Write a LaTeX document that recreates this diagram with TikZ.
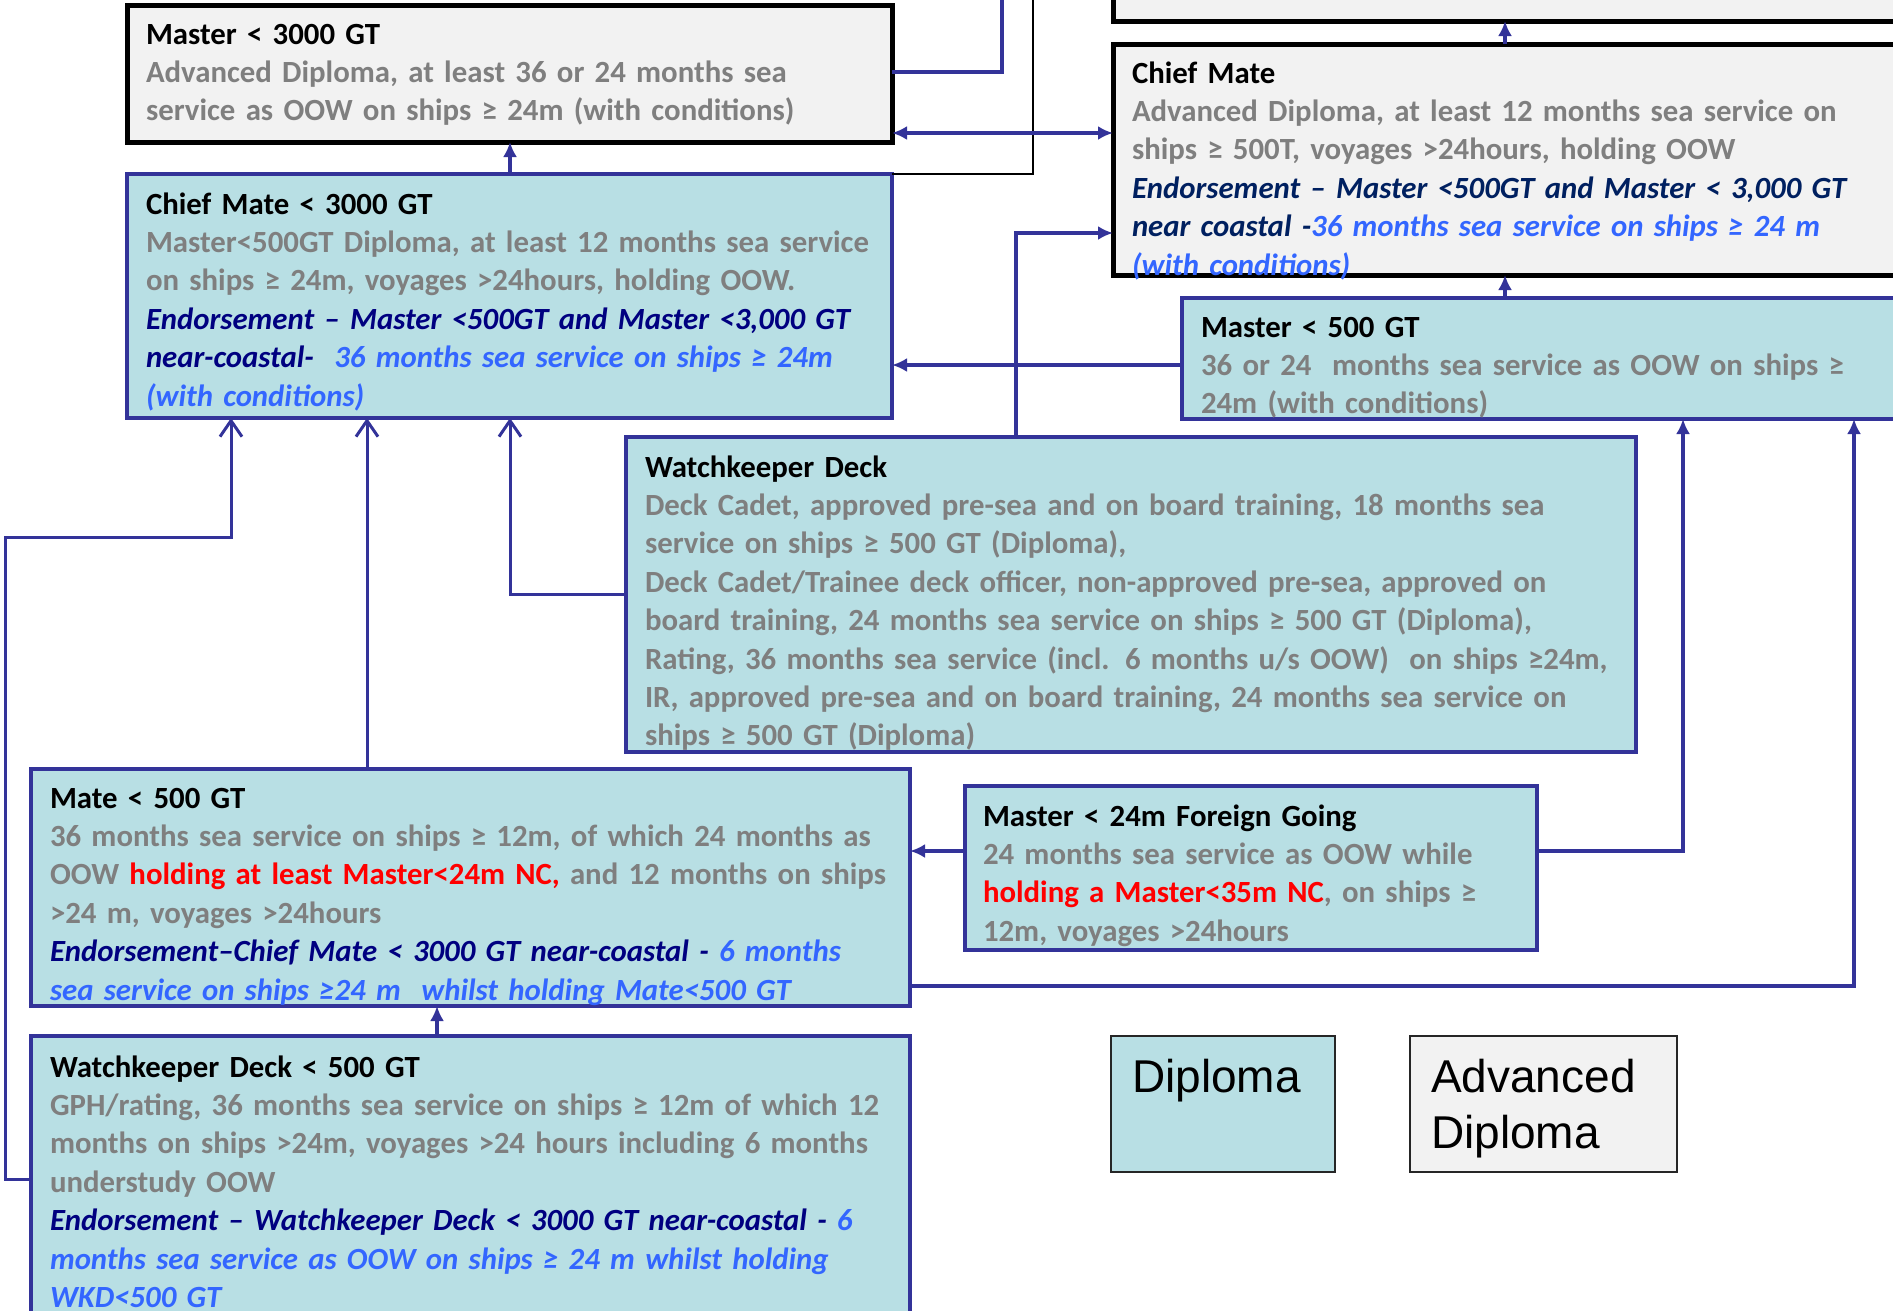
\documentclass[tikz,border=0pt]{standalone}
\usepackage{fontspec}
\setmainfont{Carlito}
\newfontfamily\legfont{Liberation Sans}
\usetikzlibrary{arrows.meta,calc}
\definecolor{cteal}{RGB}{184,223,228}
\definecolor{cgreyfill}{RGB}{242,242,242}
\definecolor{cblue}{RGB}{51,51,153}
\definecolor{tgrey}{RGB}{127,127,127}
\definecolor{navyA}{RGB}{0,0,128}
\definecolor{navyB}{RGB}{0,32,96}
\definecolor{lblue}{RGB}{51,102,255}
\definecolor{tred}{RGB}{255,0,0}
\newcommand\GE{≥}
\newcommand\fs{\rule{0pt}{30pt}}
\begin{document}
\begin{tikzpicture}[x=1pt,y=-1pt,
  tealbox/.style={draw=cblue, fill=cteal, line width=4.5pt, inner sep=0pt, outer sep=0pt, anchor=north west},
  greybox/.style={draw=black, fill=cgreyfill, line width=5pt, inner sep=0pt, outer sep=0pt, anchor=north west},
  legbox/.style={draw=black!85, line width=1.5pt, inner sep=0pt, outer sep=0pt, anchor=north west},
  txt/.style={anchor=north west, inner sep=0pt, outer sep=0pt, align=left, text width=1000pt,
    font=\fontsize{30.8}{38.4}\selectfont\bfseries},
  legtxt/.style={anchor=north west, inner sep=0pt, outer sep=0pt, align=left, text width=400pt,
    font=\legfont\fontsize{46}{56}\selectfont},
  conn/.style={draw=cblue, line width=4.5pt},
  thinconn/.style={draw=cblue, line width=3pt},
  fa/.style={-{Latex[length=15pt,width=14pt]}},
  oa/.style={-{Straight Barb[length=16pt,width=22pt]}}
]
\useasboundingbox (0,0) rectangle (1893,1310);

% boxes
\node[greybox, minimum width=765pt, minimum height=137pt] (m3) at (127,5) {};
\node[tealbox, minimum width=765pt, minimum height=244pt] (c3) at (127,174) {};
\node[greybox, minimum width=807pt, minimum height=51pt] (t) at (1113,-30) {};
\node[greybox, minimum width=807pt, minimum height=231pt] (cm) at (1113,44) {};
\node[tealbox, minimum width=738pt, minimum height=121pt] (m5) at (1182,298) {};
\node[tealbox, minimum width=1010pt, minimum height=315pt] (wd) at (626,437) {};
\node[tealbox, minimum width=879pt, minimum height=237pt] (mb) at (31,769) {};
\node[tealbox, minimum width=572pt, minimum height=164pt] (mf) at (965,786) {};
\node[tealbox, minimum width=879pt, minimum height=304pt] (w5) at (31,1036) {};
\node[legbox, fill=cteal, minimum width=224pt, minimum height=136pt] (ld) at (1111,1036) {};
\node[legbox, fill=cgreyfill, minimum width=267pt, minimum height=136pt] (la) at (1410,1036) {};

% coordinates for connectors
\coordinate (a1) at (1002,72);
\coordinate (a2) at (1002,-20);
\coordinate (b1) at (1033,174);
\coordinate (b2) at (1033,-20);
\coordinate (yc) at (0,133);
\coordinate (xd) at (510,0);
\coordinate (xe) at (1505,0);
\coordinate (yg) at (0,365);
\coordinate (h1) at (1016,233);
\coordinate (i1) at (510,594);
\coordinate (xj) at (367,0);
\coordinate (k1) at (5,1179);
\coordinate (k2) at (5,537);
\coordinate (k3) at (231,537);
\coordinate (xl) at (437,0);
\coordinate (ym) at (0,851);
\coordinate (n1) at (1683,851);
\coordinate (o1) at (1854,986);

% connectors
\draw[conn] (m3.east |- a1) -- (a1) -- (a2);
\draw[draw=black, line width=2pt] (c3.north east) -- (b1) -- (b2);
\draw[conn, {Latex[length=15pt,width=14pt]}-{Latex[length=15pt,width=14pt]}] (m3.east |- yc) -- (cm.west |- yc);
\draw[conn, fa] (c3.north -| xd) -- (m3.south -| xd);
\draw[conn, fa] (cm.north -| xe) -- (t.south -| xe);
\draw[conn, fa] (m5.north -| xe) -- (cm.south -| xe);
\draw[conn, fa] (m5.west |- yg) -- (c3.east |- yg);
\draw[conn, fa] (wd.north -| h1) -- (h1) -- (cm.west |- h1);
\draw[thinconn, oa] (wd.west |- i1) -- (i1) -- (c3.south -| i1);
\draw[thinconn, oa] (mb.north -| xj) -- (c3.south -| xj);
\draw[thinconn, oa] (w5.west |- k1) -- (k1) -- (k2) -- (k3) -- (c3.south -| k3);
\draw[conn, fa] (w5.north -| xl) -- (mb.south -| xl);
\draw[conn, fa] (mf.west |- ym) -- (mb.east |- ym);
\draw[conn, fa] (mf.east |- n1) -- (n1) -- (m5.south -| n1);
\draw[conn, fa] (mb.east |- o1) -- (o1) -- (m5.south -| o1);

% texts
\node[txt] (m3t) at ($(m3.north west)+(19,9)$) {\fs Master < 3000 GT\\
{\color{tgrey}Advanced Diploma, at least 36 or 24 months sea\\
service as OOW on ships \GE{} 24m (with conditions)}};

\node[txt] (c3t) at ($(c3.north west)+(19,10)$) {\fs Chief Mate < 3000 GT\\
{\color{tgrey}Master<500GT Diploma, at least 12 months sea service\\
on ships \GE{} 24m, voyages >24hours, holding OOW.}\\
{\itshape\color{navyA}Endorsement – Master <500GT and Master <3,000 GT\\
near-coastal-\ \ {\color{lblue}36 months sea service on ships \GE{} 24m\\
(with conditions)}}};

\node[txt] (cmt) at ($(cm.north west)+(19,9)$) {\fs Chief Mate\\
{\color{tgrey}Advanced Diploma, at least 12 months sea service on\\
ships \GE{} 500T, voyages >24hours, holding OOW}\\
{\itshape\color{navyB}Endorsement – Master <500GT and Master < 3,000 GT\\
near coastal -{\color{lblue}36 months sea service on ships \GE{} 24 m\\
(with conditions)}}};

\node[txt] (m5t) at ($(m5.north west)+(19,9)$) {\fs Master < 500 GT\\
{\color{tgrey}36 or 24\ \ months sea service as OOW on ships \GE\\
24m (with conditions)}};

\node[txt] (wdt) at ($(wd.north west)+(19,10)$) {\fs Watchkeeper Deck\\
{\color{tgrey}Deck Cadet, approved pre-sea and on board training, 18 months sea\\
service on ships \GE{} 500 GT (Diploma),\\
Deck Cadet/Trainee deck officer, non-approved pre-sea, approved on\\
board training, 24 months sea service on ships \GE{} 500 GT (Diploma),\\
Rating, 36 months sea service (incl. 6 months u/s OOW)\ \ on ships \GE 24m,\\
IR, approved pre-sea and on board training, 24 months sea service on\\
ships \GE{} 500 GT (Diploma)}};

\node[txt] (mbt) at ($(mb.north west)+(19,9)$) {\fs Mate < 500 GT\\
{\color{tgrey}36 months sea service on ships \GE{} 12m, of which 24 months as\\
OOW {\color{tred}holding at least Master<24m NC,} and 12 months on ships\\
>24 m, voyages >24hours}\\
{\itshape\color{navyA}Endorsement–Chief Mate < 3000 GT near-coastal - {\color{lblue}6 months\\
sea service on ships \GE 24 m\ \ whilst holding Mate<500 GT}}};

\node[txt] (mft) at ($(mf.north west)+(18,10)$) {\fs Master < 24m Foreign Going\\
{\color{tgrey}24 months sea service as OOW while\\
{\color{tred}holding a Master<35m NC}, on ships \GE\\
12m, voyages >24hours}};

\node[txt] (w5t) at ($(w5.north west)+(19,11)$) {\fs Watchkeeper Deck < 500 GT\\
{\color{tgrey}GPH/rating, 36 months sea service on ships \GE{} 12m of which 12\\
months on ships >24m, voyages >24 hours including 6 months\\
understudy OOW}\\
{\itshape\color{navyA}Endorsement – Watchkeeper Deck < 3000 GT near-coastal - {\color{lblue}6\\
months sea service as OOW on ships \GE{} 24 m whilst holding\\
WKD<500 GT}}};

\node[legtxt] (ldt) at ($(ld.north west)+(21,16)$) {\rule{0pt}{40pt}Diploma};
\node[legtxt] (lat) at ($(la.north west)+(21,16)$) {\rule{0pt}{40pt}Advanced\\Diploma};
\end{tikzpicture}
\end{document}
